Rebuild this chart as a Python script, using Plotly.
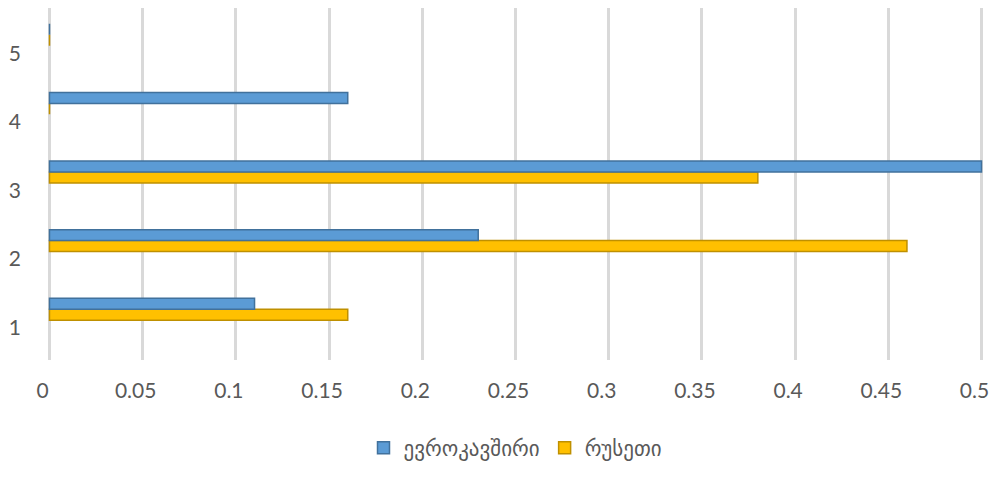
import plotly.graph_objects as go

# Category labels and series values
categories = [1, 2, 3, 4, 5]
eu_values = [0.11, 0.23, 0.50, 0.16, 0.0]
russia_values = [0.16, 0.46, 0.38, 0.0, 0.0]
series_names = ["ევროკავშირი", "რუსეთი"]
x_ticks = [0, 0.05, 0.1, 0.15, 0.2, 0.25, 0.3, 0.35, 0.4, 0.45, 0.5]
x_tick_text = ["0", "0.05", "0.1", "0.15", "0.2", "0.25", "0.3", "0.35", "0.4", "0.45", "0.5"]

font_family = "Lato, 'DejaVu Sans', sans-serif"
text_color = "#595959"

fig = go.Figure()
fig.add_trace(go.Bar(
    y=categories, x=russia_values, name=series_names[1], orientation="h",
    offset=0.11, width=0.16,
    marker=dict(color="#FFC000", line=dict(color="#BF9000", width=1.5)),
))
fig.add_trace(go.Bar(
    y=categories, x=eu_values, name=series_names[0], orientation="h",
    offset=0.27, width=0.16,
    marker=dict(color="#5B9BD5", line=dict(color="#41719C", width=1.5)),
))

fig.update_layout(
    width=997, height=477,
    margin=dict(l=48, r=12, t=8, b=110),
    paper_bgcolor="white", plot_bgcolor="white",
    font=dict(family=font_family, size=21, color=text_color),
    showlegend=True,
    legend=dict(orientation="h", x=0.5, xanchor="center", y=-0.25, yanchor="middle",
                traceorder="reversed", font=dict(size=21, color=text_color),
                itemwidth=30),
)
fig.update_xaxes(
    range=[-0.0008, 0.5008], tickvals=x_ticks, ticktext=x_tick_text,
    showgrid=True, gridcolor="#D9D9D9", gridwidth=2.5,
    zeroline=False, showline=False, ticklabelstandoff=16,
    ticklabelshift=-7, ticklabeloverflow="allow",
)
fig.update_yaxes(
    range=[0.53, 5.66], tickvals=categories, ticktext=[str(c) for c in categories],
    showgrid=False, zeroline=False, showline=False, ticklabelstandoff=26,
)

fig.write_html("out.html")
